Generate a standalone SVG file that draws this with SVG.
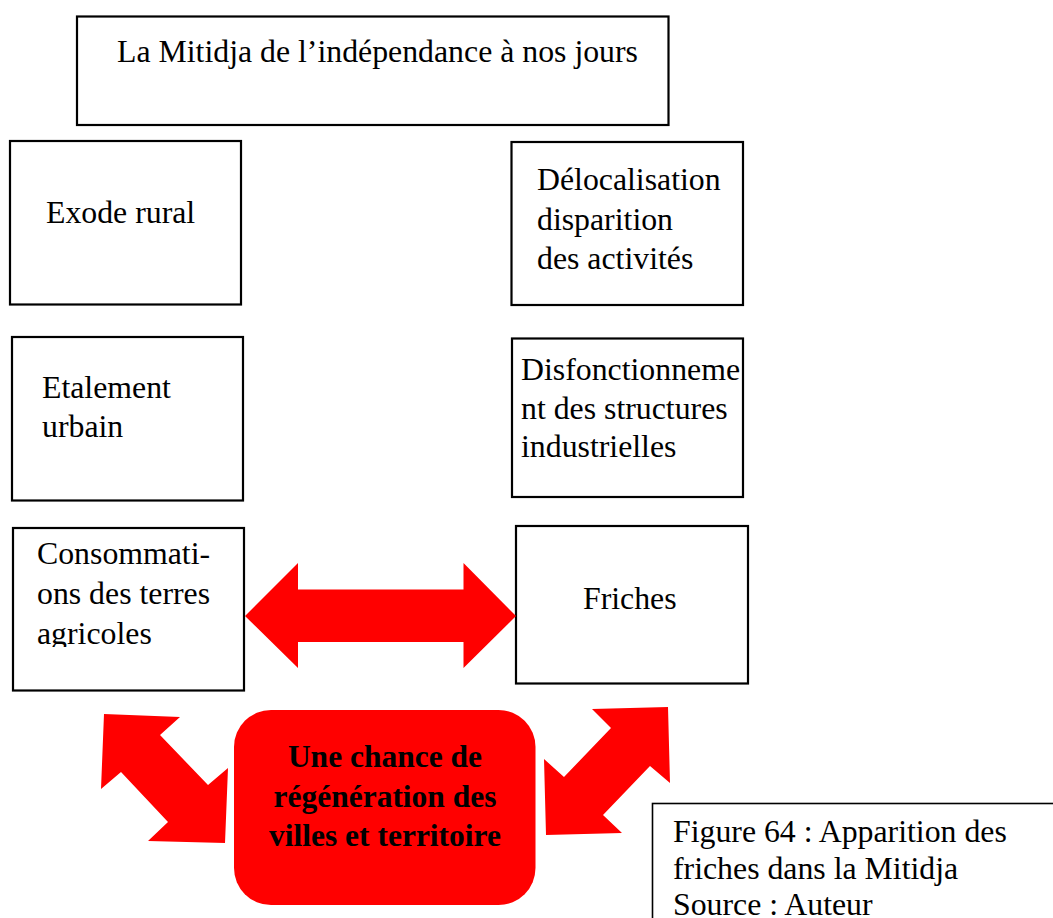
<svg xmlns="http://www.w3.org/2000/svg" width="1053" height="918" viewBox="0 0 1053 918">
<style>
  .box { fill: #ffffff; stroke: #000000; stroke-width: 2.2; }
  .cap { fill: #ffffff; stroke: #000000; stroke-width: 1.6; }
  .t { font-family: "Liberation Serif", "Times New Roman", serif; font-size: 31.8px; fill: #000000; }
  .b { font-family: "Liberation Serif", "Times New Roman", serif; font-size: 31.5px; font-weight: bold; fill: #000000; text-anchor: middle; }
  .red { fill: #ff0000; stroke: none; }
</style>
<defs>
  <clipPath id="clipCons"><rect x="0" y="520" width="260" height="127"/></clipPath>
</defs>
<rect width="1053" height="918" fill="#ffffff"/>

<g id="title">
  <rect class="box" x="77" y="16.5" width="591.5" height="108.5"/>
  <text class="t" x="117" y="62" textLength="521" lengthAdjust="spacingAndGlyphs">La Mitidja de l’indépendance à nos jours</text>
</g>

<g id="exode">
  <rect class="box" x="10" y="141" width="231" height="163.5"/>
  <text class="t" x="46" y="223">Exode rural</text>
</g>

<g id="delocalisation">
  <rect class="box" x="511.5" y="142" width="231.5" height="163"/>
  <text class="t" x="537" y="190">Délocalisation</text>
  <text class="t" x="537" y="230">disparition</text>
  <text class="t" x="537" y="269">des activités</text>
</g>

<g id="etalement">
  <rect class="box" x="12" y="337" width="231" height="163.5"/>
  <text class="t" x="42" y="398">Etalement</text>
  <text class="t" x="42" y="437">urbain</text>
</g>

<g id="disfonctionnement">
  <rect class="box" x="512" y="338.5" width="231" height="158.5"/>
  <text class="t" x="521" y="380">Disfonctionneme</text>
  <text class="t" x="521" y="419">nt des structures</text>
  <text class="t" x="521" y="457">industrielles</text>
</g>

<g id="consommations">
  <rect class="box" x="13" y="528" width="231" height="162.5"/>
  <g clip-path="url(#clipCons)">
    <text class="t" x="37" y="564">Consommati-</text>
    <text class="t" x="37" y="604">ons des terres</text>
    <text class="t" x="37" y="644">agricoles</text>
  </g>
</g>

<g id="friches">
  <rect class="box" x="516" y="526" width="232" height="157.5"/>
  <text class="t" x="583" y="609">Friches</text>
</g>

<g id="chance">
  <rect class="red" x="234" y="710" width="301.5" height="195" rx="37" ry="37"/>
  <text class="b" x="385" y="767">Une chance de</text>
  <text class="b" x="385" y="807">régénération des</text>
  <text class="b" x="385" y="846">villes et territoire</text>
</g>

<g id="caption">
  <rect class="cap" x="652.5" y="803.5" width="420" height="140"/>
  <text class="t" x="673" y="842">Figure 64 : Apparition des</text>
  <text class="t" x="673" y="879">friches dans la Mitidja</text>
  <text class="t" x="673" y="915">Source : Auteur</text>
</g>

<g id="connectors">
  <polygon class="red" points="245,616 298,563 298,589.5 463.5,589.5 463.5,563 516,616 463.5,668 463.5,642 298,642 298,668"/>
  <polygon class="red" points="104,714 180,717 160,735 208,785 228,768 225,843 148,841 168,822 121,772 101,789"/>
  <polygon class="red" points="668,707 670,783 650,766 603,815 622,833 546,835 544,759 564,777 611,728 592,709"/>
</g>
</svg>
